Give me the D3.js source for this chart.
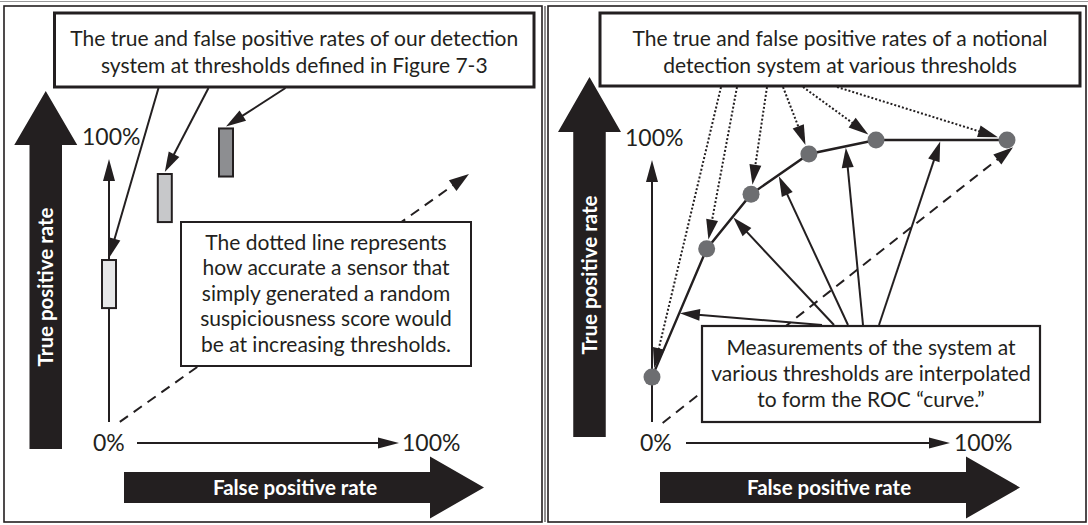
<!DOCTYPE html>
<html>
<head>
<meta charset="utf-8">
<script src="https://cdn.jsdelivr.net/npm/d3@7"></script>
<style>
  body { margin: 0; background: #fff; }
  svg { display: block; }
  text { font-family: Lato, "Open Sans", sans-serif; fill: #231f20; }
</style>
</head>
<body>
<svg id="chart" width="1088" height="525"></svg>
<script>
// left panel: three measured thresholds, TPR given as a small range
const leftFpr = [0, 0.155, 0.325];
const leftTprLow = [0.47, 0.81, 0.99];
const leftTprHigh = [0.66, 1.0, 1.18];

// right panel: notional ROC points
const rocFpr = [0, 0.154, 0.279, 0.442, 0.631, 1.0];
const rocTpr = [0.168, 0.618, 0.81, 0.951, 1.0, 1.0];
// where the solid callouts hit the curve (segment index, fraction along it)
const hitSegment = [0, 1, 2, 3, 4];
const hitFraction = [0.51, 0.6, 0.48, 0.55, 0.49];

// random-guess diagonal, [fpr, tpr] ends
const leftDiagonal = [[0.03, 0.02], [1, 1]];
const rightDiagonal = [[0.03, 0.007], [1.017, 0.975]];

const tickLabels = ["0%", "100%"];
const yTitle = "True positive rate";
const xTitle = "False positive rate";
const leftTitle = ["The true and false positive rates of our detection",
                   "system at thresholds defined in Figure 7-3"];
const rightTitle = ["The true and false positive rates of a notional",
                    "detection system at various thresholds"];
const leftNote = ["The dotted line represents", "how accurate a sensor that",
                  "simply generated a random", "suspiciousness score would",
                  "be at increasing thresholds."];
const rightNote = ["Measurements of the system at", "various thresholds are interpolated",
                   "to form the ROC \u201ccurve.\u201d"];

const ink = "#231f20";
const bodySize = 21;
const svg = d3.select("#chart");

function arrow(g, x1, y1, x2, y2, opt = {}) {
  const len = opt.len || 20, half = opt.half || 6;
  const dx = x2 - x1, dy = y2 - y1, d = Math.hypot(dx, dy);
  const ux = dx / d, uy = dy / d;
  const bx = x2 - ux * len, by = y2 - uy * len;
  const l = g.append("line")
    .attr("x1", x1).attr("y1", y1)
    .attr("x2", bx + ux * 2).attr("y2", by + uy * 2)
    .attr("stroke", ink).attr("stroke-width", opt.width || 2);
  if (opt.dash) l.attr("stroke-dasharray", opt.dash);
  g.append("path")
    .attr("d", d3.line()([[x2, y2], [bx - uy * half, by + ux * half], [bx + uy * half, by - ux * half]]) + "Z")
    .attr("fill", ink);
}

function textBox(g, b, lines, size) {
  g.append("rect")
    .attr("x", b.x0).attr("y", b.y0)
    .attr("width", b.x1 - b.x0).attr("height", b.y1 - b.y0)
    .attr("fill", "#fff").attr("stroke", ink).attr("stroke-width", b.stroke);
  g.selectAll(null).data(lines).join("text")
    .attr("x", (b.x0 + b.x1) / 2)
    .attr("y", (d, i) => b.base + i * b.step)
    .attr("text-anchor", "middle")
    .style("font-size", size + "px")
    .text(d => d);
}

function frame(g, p) {
  g.append("rect")
    .attr("x", p.x0).attr("y", p.y0)
    .attr("width", p.x1 - p.x0).attr("height", p.y1 - p.y0)
    .attr("fill", "none").attr("stroke", ink).attr("stroke-width", 1.6);

  // big TPR arrow
  const t = p.tpr;
  g.append("path")
    .attr("d", d3.line()([
      [t.cx, t.tip], [t.cx + 31.5, t.headBase], [t.cx + 16.25, t.headBase],
      [t.cx + 16.25, t.bottom], [t.cx - 16.25, t.bottom], [t.cx - 16.25, t.headBase],
      [t.cx - 31.5, t.headBase]]) + "Z")
    .attr("fill", ink);
  g.append("text")
    .attr("transform", `translate(${t.cx + 7.5},${t.textY}) rotate(-90)`)
    .attr("text-anchor", "middle")
    .style("font-size", "20.5px").style("font-weight", 700).style("fill", "#fff")
    .text(yTitle);

  // big FPR arrow
  const f = p.fpr;
  g.append("path")
    .attr("d", d3.line()([
      [f.left, f.cy - 15.5], [f.headStart, f.cy - 15.5], [f.headStart, f.cy - 31],
      [f.tip, f.cy], [f.headStart, f.cy + 31], [f.headStart, f.cy + 15.5],
      [f.left, f.cy + 15.5]]) + "Z")
    .attr("fill", ink);
  g.append("text")
    .attr("x", f.textX).attr("y", f.cy + 7.5)
    .attr("text-anchor", "middle")
    .style("font-size", "20.5px").style("font-weight", 700).style("fill", "#fff")
    .text(xTitle);

  // small axes
  arrow(g, p.yAxis.x, p.yAxis.y0, p.yAxis.x, p.yAxis.y1, { len: 22, half: 6 });
  arrow(g, p.xAxis.x0, p.xAxis.y, p.xAxis.x1, p.xAxis.y, { len: 21, half: 5.5 });
  g.append("text").attr("x", p.labels.top[0]).attr("y", p.labels.top[1])
    .style("font-size", "23px").text(tickLabels[1]);
  g.append("text").attr("x", p.labels.zero[0]).attr("y", p.labels.zero[1])
    .style("font-size", "23px").text(tickLabels[0]);
  g.append("text").attr("x", p.labels.right[0]).attr("y", p.labels.right[1])
    .style("font-size", "23px").text(tickLabels[1]);
}

svg.append("line").attr("x1", 0).attr("x2", 1088).attr("y1", 1.5).attr("y2", 1.5)
  .attr("stroke", "#9a9a9a").attr("stroke-width", 1);
svg.append("line").attr("x1", 545).attr("x2", 545).attr("y1", 6).attr("y2", 522)
  .attr("stroke", ink).attr("stroke-width", 1);

// ---------- left panel ----------
const L = {
  x0: 4, x1: 542, y0: 6, y1: 522,
  tpr: { cx: 45.75, tip: 91, headBase: 145, bottom: 449, textY: 287 },
  fpr: { left: 124, headStart: 430, tip: 484, cy: 487.5, textX: 295 },
  yAxis: { x: 109, y0: 422, y1: 159 },
  xAxis: { y: 443, x0: 137, x1: 399 },
  labels: { top: [82, 145], zero: [93, 451], right: [402, 451] }
};
const gl = svg.append("g");
frame(gl, L);

const xl = d3.scaleLinear().domain([0, 1]).range([109, 469]);
const yl = d3.scaleLinear().domain([0, 1]).range([427, 174]);

arrow(gl, xl(leftDiagonal[0][0]), yl(leftDiagonal[0][1]), xl(leftDiagonal[1][0]), yl(leftDiagonal[1][1]),
  { dash: "10 7", len: 20, half: 6.5 });

textBox(gl, { x0: 181, x1: 471, y0: 222, y1: 366, base: 250, step: 25.4, stroke: 2 }, leftNote, bodySize);

const rectFill = ["#e6e7e8", "#c7c8ca", "#8d8e91"];
const leftPts = leftFpr.map((v, i) => ({ fpr: v, lo: leftTprLow[i], hi: leftTprHigh[i], i }));
gl.selectAll("rect.m").data(leftPts).join("rect")
  .attr("class", "m")
  .attr("x", d => xl(d.fpr) - 7).attr("width", 14)
  .attr("y", d => yl(d.hi)).attr("height", d => yl(d.lo) - yl(d.hi))
  .attr("fill", d => rectFill[d.i]).attr("stroke", ink).attr("stroke-width", 2);

const leftTitleBox = { x0: 54.5, x1: 534, y0: 13, y1: 87, base: 46, step: 27, stroke: 3 };
const leftStarts = [104, 154, 231]; // along the title box bottom
leftPts.forEach((d, i) => {
  arrow(gl, leftTitleBox.x0 + leftStarts[i], leftTitleBox.y1 + 1, xl(d.fpr), yl(d.hi) - 2, { len: 20, half: 6 });
});
textBox(gl, leftTitleBox, leftTitle, bodySize);

// ---------- right panel ----------
const R = {
  x0: 548, x1: 1086, y0: 6, y1: 522,
  tpr: { cx: 589.5, tip: 77, headBase: 132, bottom: 437, textY: 275 },
  fpr: { left: 660, headStart: 966, tip: 1020, cy: 487.5, textX: 829 },
  yAxis: { x: 652, y0: 422, y1: 160 },
  xAxis: { y: 443, x0: 686, x1: 950 },
  labels: { top: [625, 146], zero: [640, 451], right: [954, 451] }
};
const gr = svg.append("g");
frame(gr, R);

const xr = d3.scaleLinear().domain([0, 1]).range([652, 1007]);
const yr = d3.scaleLinear().domain([0, 1]).range([425, 140]);

arrow(gr, xr(rightDiagonal[0][0]), yr(rightDiagonal[0][1]), xr(rightDiagonal[1][0]), yr(rightDiagonal[1][1]),
  { dash: "10 7", len: 20, half: 6.5 });

const roc = rocFpr.map((v, i) => [xr(v), yr(rocTpr[i])]);
const rightNoteBox = { x0: 702, x1: 1040, y0: 326, y1: 422, base: 355, step: 25.8, stroke: 2.2 };
textBox(gr, rightNoteBox, rightNote, bodySize);

gr.append("path")
  .attr("d", d3.line()(roc))
  .attr("fill", "none").attr("stroke", ink).attr("stroke-width", 2.4);

// solid callouts from the note box up to the interpolated segments
const noteStarts = [120, 132, 146, 161, 177];
hitSegment.forEach((s, i) => {
  const a = roc[s], b = roc[s + 1], t = hitFraction[i];
  const hx = a[0] + (b[0] - a[0]) * t, hy = a[1] + (b[1] - a[1]) * t;
  arrow(gr, rightNoteBox.x0 + noteStarts[i], rightNoteBox.y0 - 1, hx, hy + 1.5, { len: 20, half: 6 });
});

const r = 8.5;
gr.selectAll("circle").data(roc).join("circle")
  .attr("cx", d => d[0]).attr("cy", d => d[1]).attr("r", r)
  .attr("fill", "#6d6e71");

// dotted callouts from the title box to each measured point
const rightTitleBox = { x0: 600, x1: 1080, y0: 13, y1: 86, base: 46, step: 26.5, stroke: 3 };
const titleStarts = [121, 137, 167, 183, 203, 237];
roc.forEach((c, i) => {
  const sx = rightTitleBox.x0 + titleStarts[i], sy = rightTitleBox.y1 + 1;
  const dx = c[0] - sx, dy = c[1] - sy, d = Math.hypot(dx, dy);
  arrow(gr, sx, sy, c[0] - dx / d * (r + 1), c[1] - dy / d * (r + 1), { dash: "2 2", len: 20, half: 6 });
});
textBox(gr, rightTitleBox, rightTitle, bodySize);
</script>
</body>
</html>
